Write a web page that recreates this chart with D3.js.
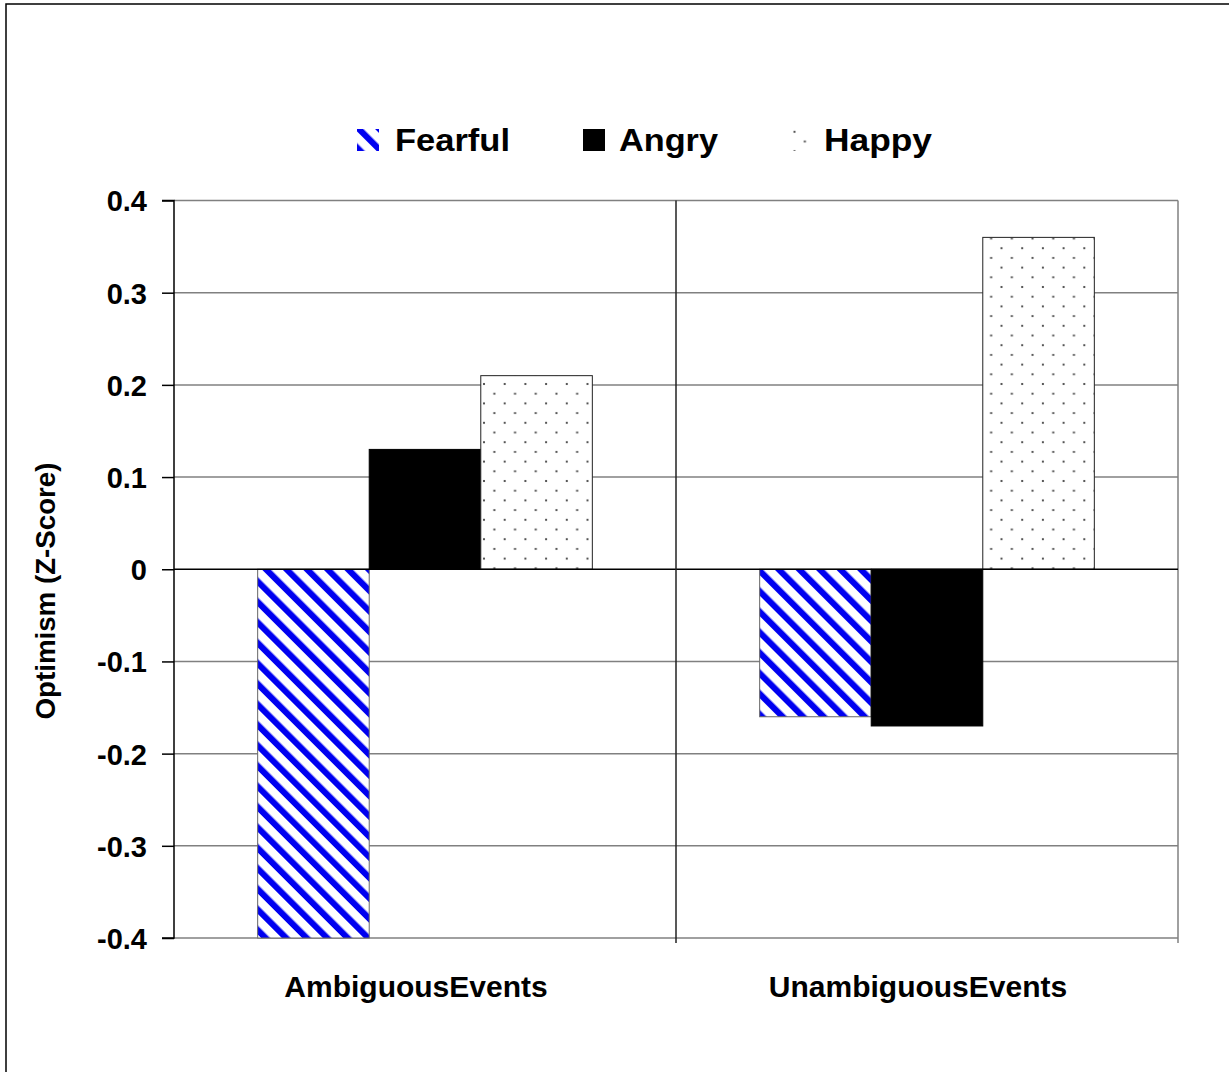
<!DOCTYPE html>
<html><head><meta charset="utf-8">
<script src="https://cdn.jsdelivr.net/npm/d3@7/dist/d3.min.js"></script>
<style>body{margin:0;background:#fff}svg{display:block}text{font-family:"Liberation Sans",Arial,sans-serif;font-weight:bold;fill:#000}</style>
</head><body><svg id="c" width="1229" height="1072"></svg>
<script>
const categories = ["AmbiguousEvents", "UnambiguousEvents"];
const seriesNames = ["Fearful", "Angry", "Happy"];
const fearful = [-0.40, -0.16];
const angry = [0.13, -0.17];
const happy = [0.21, 0.36];
const yTicks = [0.4, 0.3, 0.2, 0.1, 0, -0.1, -0.2, -0.3, -0.4];
const yTickLabels = ["0.4", "0.3", "0.2", "0.1", "0", "-0.1", "-0.2", "-0.3", "-0.4"];
const yTitle = "Optimism (Z-Score)";

const seriesValues = {Fearful: fearful, Angry: angry, Happy: happy};
const svg = d3.select("#c");
const L = 174, R = 1178, T = 200.5, B = 938;

// outer chart frame
svg.append("rect").attr("x", 6).attr("y", 4).attr("width", 1300).attr("height", 1200)
  .attr("fill", "#fff").attr("stroke", "#000").attr("stroke-width", 1.5);

const defs = svg.append("defs");
const P = 14.5;
const pf = defs.append("pattern").attr("id", "pFear").attr("patternUnits", "userSpaceOnUse")
  .attr("width", P).attr("height", P).attr("patternTransform", "rotate(-45)");
pf.append("rect").attr("width", P).attr("height", P).attr("fill", "#fff");
pf.append("rect").attr("x", 0).attr("width", 6.2).attr("height", P).attr("fill", "#0000f0");
const ph = defs.append("pattern").attr("id", "pHappy").attr("patternUnits", "userSpaceOnUse")
  .attr("width", 20.7).attr("height", 19.4).attr("x", 484).attr("y", 384);
ph.append("rect").attr("width", 20.7).attr("height", 19.4).attr("fill", "#fff");
ph.append("rect").attr("x", -1).attr("y", -1).attr("width", 2).attr("height", 2).attr("fill", "#555");
ph.append("rect").attr("x", 9.35).attr("y", 8.7).attr("width", 2).attr("height", 2).attr("fill", "#555");
ph.append("rect").attr("x", 19.7).attr("y", -1).attr("width", 2).attr("height", 2).attr("fill", "#555");
ph.append("rect").attr("x", -1).attr("y", 18.4).attr("width", 2).attr("height", 2).attr("fill", "#555");
ph.append("rect").attr("x", 19.7).attr("y", 18.4).attr("width", 2).attr("height", 2).attr("fill", "#555");

const fills = {Fearful: "url(#pFear)", Angry: "#000", Happy: "url(#pHappy)"};
const strokes = {Fearful: "#666", Angry: "#000", Happy: "#222"};

const x0 = d3.scaleBand().domain(categories).range([L, R]).paddingInner(0).paddingOuter(0);
const x1 = d3.scaleBand().domain(seriesNames).range([0, x0.bandwidth()]).paddingInner(0).paddingOuter(0.75);
const y = d3.scaleLinear().domain([-0.4, 0.4]).range([B, T]);

// gridlines
svg.append("g").selectAll("line").data(yTicks.filter(v => v !== 0)).join("line")
  .attr("x1", L).attr("x2", R).attr("y1", d => y(d)).attr("y2", d => y(d))
  .attr("stroke", "#808080").attr("stroke-width", 1.5);
// plot frame right
svg.append("line").attr("x1", R).attr("x2", R).attr("y1", T).attr("y2", B).attr("stroke", "#808080").attr("stroke-width", 1.5);

// bars
const bars = [];
categories.forEach((c, i) => seriesNames.forEach(s => bars.push({c, s, v: seriesValues[s][i]})));
svg.append("g").selectAll("rect").data(bars).join("rect")
  .attr("x", d => x0(d.c) + x1(d.s))
  .attr("width", x1.bandwidth())
  .attr("y", d => y(Math.max(0, d.v)))
  .attr("height", d => Math.abs(y(d.v) - y(0)))
  .attr("fill", d => fills[d.s]).attr("stroke", d => strokes[d.s]).attr("stroke-width", 1);

// zero line
svg.append("line").attr("x1", L).attr("x2", R).attr("y1", y(0)).attr("y2", y(0)).attr("stroke", "#000").attr("stroke-width", 1.5);
// separator / category ticks
const sepX = [L, x0(categories[1]), R];
svg.append("g").selectAll("line").data(sepX.slice(1)).join("line")
  .attr("x1", d => d).attr("x2", d => d).attr("y1", (d, i) => i === 0 ? T : B).attr("y2", B + 5)
  .attr("stroke", (d, i) => i === 0 ? "#222" : "#808080").attr("stroke-width", 1.5);

// y axis
const yAxis = d3.axisLeft(y).tickValues(yTicks).tickSize(12).tickPadding(15)
  .tickFormat((d, i) => yTickLabels[i]);
const ga = svg.append("g").attr("transform", `translate(${L},0)`).call(yAxis);
ga.select(".domain").attr("stroke", "#000").attr("stroke-width", 1.5).attr("d", `M-12,${T}H0V${B}H-12`);
ga.selectAll(".tick line").attr("stroke", "#000").attr("stroke-width", 1.5);
ga.selectAll(".tick text").style("font-size", "29px").style("font-family", '"Liberation Sans",Arial,sans-serif')
  .style("font-weight", "bold").attr("fill", "#000").attr("dy", "0.36em");

// x labels
svg.append("g").selectAll("text").data(categories).join("text")
  .attr("x", d => x0(d) + x0.bandwidth() / 2 - 9).attr("y", 997)
  .attr("text-anchor", "middle").style("font-size", "30px").text(d => d);

// y title
svg.append("text").attr("transform", "translate(55,591) rotate(-90)")
  .attr("text-anchor", "middle").style("font-size", "27px")
  .attr("textLength", 257).attr("lengthAdjust", "spacingAndGlyphs").text(yTitle);

// legend
const legX = [357, 583, 788];
const legTX = [395, 619, 824];
const legW = [115, 99, 108];
const lg = svg.append("g");
lg.selectAll("rect").data(seriesNames).join("rect")
  .attr("x", (d, i) => legX[i]).attr("y", 129).attr("width", 22).attr("height", 22)
  .attr("fill", d => fills[d]);
lg.selectAll("text").data(seriesNames).join("text")
  .attr("x", (d, i) => legTX[i]).attr("y", 151).style("font-size", "32px")
  .attr("textLength", (d, i) => legW[i]).attr("lengthAdjust", "spacingAndGlyphs").text(d => d);
</script></body></html>
